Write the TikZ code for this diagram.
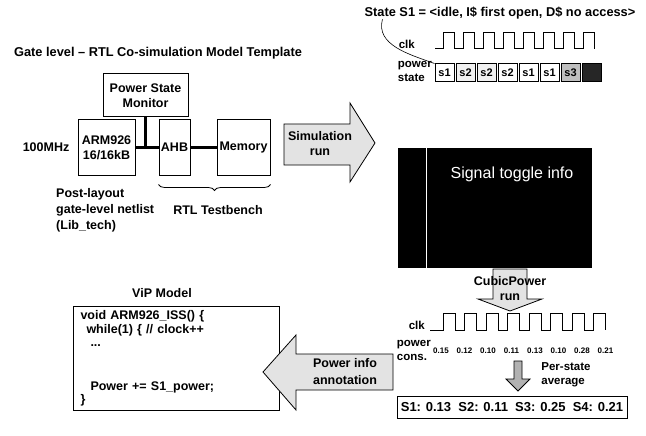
\documentclass[tikz,border=0pt]{standalone}
\usepackage{fontspec}
\setmainfont{Liberation Sans}
\usetikzlibrary{positioning,calc,decorations.pathreplacing}

\tikzset{
    lbl/.style={font=\fontsize{12.5}{15}\selectfont\bfseries, align=center, inner sep=0pt},
    lblsm/.style={font=\fontsize{11.5}{14}\selectfont\bfseries, align=left, inner sep=0pt},
    blk/.style={draw, line width=1pt, fill=white, inner sep=0pt, align=center,
        font=\fontsize{12.5}{15}\selectfont\bfseries},
    stbox/.style={draw, line width=1pt, minimum width=19pt, minimum height=18pt, inner sep=0pt,
        font=\fontsize{11}{12}\selectfont\bfseries},
    bus/.style={line width=2.2pt},
    wave/.style={line width=1pt, line join=miter},
    fatarrow/.style={draw, line width=0.8pt, fill=gray!22},
}

\begin{document}
\begin{tikzpicture}[x=1pt, y=-1pt]
    \useasboundingbox (0,0) rectangle (646,436);

    % co-simulation template
    \node[lbl, font=\fontsize{12.8}{15}\selectfont\bfseries] (title) at (158,53)
        {Gate level – RTL Co-simulation Model Template};
    \node[blk, minimum width=85pt, minimum height=43pt] (psm) at (145.5,95.5) {Power State\\Monitor};
    \node[blk, minimum width=57pt, minimum height=55pt] (arm) at (106.5,147.5) {ARM926\\16/16kB};
    \node[blk, minimum width=31pt, minimum height=55pt] (ahb) at (174.5,147.5) {AHB};
    \node[blk, minimum width=53pt, minimum height=55pt] (mem) at (243.5,147.5) {Memory};
    \node[lbl, left=8pt of arm] (freq) {100MHz};
    \draw[bus] (psm.south) -- (psm.south |- arm.east);
    \draw[bus] (arm.east) -- (ahb.west);
    \draw[bus] (ahb.east) -- (mem.west);
    \draw[decorate, decoration={brace, amplitude=6pt}, line width=0.8pt]
        ([yshift=-9pt]mem.south east) -- ([yshift=-9pt]ahb.south west);
    \node[lbl, font=\fontsize{12.5}{16}\selectfont\bfseries, align=left, anchor=north west] (post) at (56,188)
        {Post-layout\\gate-level netlist\\(Lib\_tech)};
    \node[lbl] (rtltb) at (218,210) {RTL Testbench};

    % simulation run
    \draw[fatarrow] (284,124) -- (350,124) -- (350,103) -- (375,143) -- (350,182) -- (350,165) -- (284,165) -- cycle;
    \node[lbl] (simrun) at (320,144) {Simulation\\run};

    % power states
    \node[lbl, font=\fontsize{12.8}{15}\selectfont\bfseries] (stitle) at (500,13)
        {State S1 = <idle, I\$ first open, D\$ no access>};
    \node[lblsm, anchor=east] (clka) at (415,44) {clk};
    \draw[wave] (435,49) \foreach \i in {0,...,7}{
        -- ({443+20*\i},49) -- ({443+20*\i},33) -- ({454+20*\i},33) -- ({454+20*\i},49)};
    \node[lblsm, anchor=east] (pstate) at (432,71) {power\\state};
    \foreach \s/\f [count=\k from 0] in {s1/white, s2/gray!12, s2/gray!12, s2/white,
                                         s1/white, s1/white, s3/gray!50, {}/black!85} {
        \node[stbox, fill=\f] (ps\k) at ({444.5+21*\k},73) {\s};
    }
    \draw[line width=0.6pt] ([xshift=18pt]stitle.south west) to[out=-105, in=160] (ps0.north west);

    % toggle info
    \node[fill=black, minimum width=194pt, minimum height=120pt, inner sep=0pt] (tog) at (495,208) {};
    \draw[white, line width=1pt] ([xshift=29pt]tog.north west) -- ([xshift=29pt]tog.south west);
    \node[text=white, font=\fontsize{16}{18}\selectfont, inner sep=0pt] (togtxt) at (512,174) {Signal toggle info};

    % cubicpower run
    \draw[fatarrow] (493,269) -- (527,269) -- (527,299) -- (542,299) -- (510,311) -- (478,299) -- (493,299) -- cycle;
    \node[lbl] (cprun) at (510,289) {CubicPower\\run};

    % power consumption
    \node[lblsm, anchor=east] (clkb) at (425,325) {clk};
    \draw[wave] (430,330) \foreach \i in {0,...,7}{
        -- ({443+21.5*\i},330) -- ({443+21.5*\i},313) -- ({455+21.5*\i},313) -- ({455+21.5*\i},330)};
    \node[lblsm, anchor=east] (pcons) at (431,350) {power\\cons.};
    \foreach \v [count=\k from 0] in {0.15,0.12,0.10,0.11,0.13,0.10,0.28,0.21} {
        \node[font=\fontsize{8}{9}\selectfont\bfseries, inner sep=0pt] (pv\k) at ({441+23.5*\k},351) {\v};
    }
    \draw[fatarrow, fill=gray!60] (514,361) -- (522,361) -- (522,379) -- (530,379) -- (518,391) -- (506,379) -- (514,379) -- cycle;
    \node[lblsm] (avg) at (566,375) {Per-state\\average};
    \node[draw, line width=1pt, minimum width=230pt, minimum height=22pt, inner sep=0pt,
        font=\fontsize{13}{15}\selectfont\bfseries] (res) at (512,407)
        {S1: 0.13\ \ S2: 0.11\ \ S3: 0.25\ \ S4: 0.21};

    % ViP model
    \node[lbl] (viplbl) at (162,293) {ViP Model};
    \node[draw, line width=1pt, anchor=north west, text width=192pt, minimum height=101pt,
        inner xsep=7pt, inner ysep=4pt, align=left, font=\fontsize{12.5}{13.5}\selectfont\bfseries] (vip) at (73,306)
        {void ARM926\_ISS() \{\\
         \hspace*{6pt}while(1) \{ // clock++\\
         \hspace*{10pt}...\\[30pt]
         \hspace*{10pt}Power += S1\_power;\\
         \}};
    \draw[fatarrow] (393,354) -- (296,354) -- (296,335) -- (263,372) -- (296,410) -- (296,390) -- (393,390) -- cycle;
    \node[lbl, font=\fontsize{12.5}{17}\selectfont\bfseries] (pia) at (345,372) {Power info\\annotation};
\end{tikzpicture}
\end{document}
